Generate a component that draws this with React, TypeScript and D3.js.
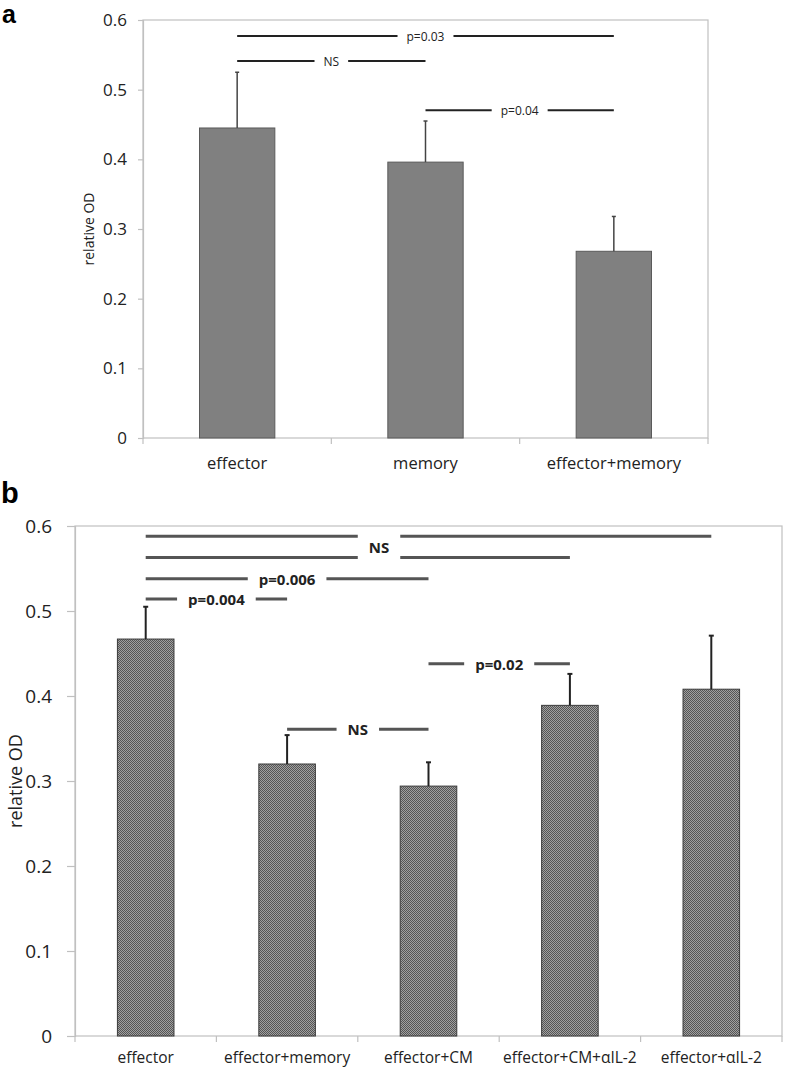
import React, { useEffect, useRef } from "react";
import * as d3 from "d3";

// ---------- Panel a data ----------
const catsA = ["effector", "memory", "effector+memory"];
const valsA = [0.445, 0.396, 0.268];
const errA = [0.525, 0.455, 0.318];
const sigA = [
  { from: 0, to: 2, y: 0.577, label: "p=0.03", gapAt: 1 },
  { from: 0, to: 1, y: 0.541, label: "NS", gapAt: 0.5 },
  { from: 1, to: 2, y: 0.4706, label: "p=0.04", gapAt: 1.5 },
];

// ---------- Panel b data ----------
const catsB = ["effector", "effector+memory", "effector+CM", "effector+CM+αIL-2", "effector+αIL-2"];
const valsB = [0.467, 0.32, 0.294, 0.389, 0.408];
const errB = [0.505, 0.354, 0.322, 0.426, 0.471];
const sigB = [
  { from: 0, to: 4, y: 0.588, label: "", gapAt: 1.65 },
  { from: 0, to: 3, y: 0.563, label: "", gapAt: 1.65 },
  { from: 0, to: 2, y: 0.538, label: "p=0.006", gapAt: 1 },
  { from: 0, to: 1, y: 0.514, label: "p=0.004", gapAt: 0.5 },
  { from: 2, to: 3, y: 0.438, label: "p=0.02", gapAt: 2.5 },
  { from: 1, to: 2, y: 0.361, label: "NS", gapAt: 1.5 },
];
const extraLabelsB = [{ at: 1.65, y: 0.5755, text: "NS" }];

const yTicks = [0, 0.1, 0.2, 0.3, 0.4, 0.5, 0.6];
const yTickLabels = ["0", "0.1", "0.2", "0.3", "0.4", "0.5", "0.6"];

const FONT = "'Open Sans', 'Noto Sans', sans-serif";

type Cfg = {
  cats: string[];
  vals: number[];
  errs: number[];
  sig: { from: number; to: number; y: number; label: string; gapAt: number }[];
  extra: { at: number; y: number; text: string }[];
  left: number; right: number; top: number; bottom: number;
  tickFont: number; tickSize: number; tickPad: number;
  catFont: number; catBaselineOffset: number;
  yLabelX: number; yLabelFont: number;
  sigFont: number; sigWeight: string; sigStroke: string; sigWidth: number; sigPad: number;
  barFill: string; barStroke: string;
  errStroke: string; errWidth: number; capW: number;
};

function drawPanel(svg: d3.Selection<SVGSVGElement, unknown, null, undefined>, c: Cfg) {
  const g = svg.append("g");
  const x = d3.scaleBand<number>()
    .domain(c.cats.map((_, i) => i))
    .range([c.left, c.right])
    .paddingInner(0.6)
    .paddingOuter(0.3);
  const step = x.step();
  const cx = (i: number) => c.left + step * (i + 0.5);
  const y = d3.scaleLinear().domain([0, 0.6]).range([c.bottom, c.top]);

  // plot box
  g.append("rect")
    .attr("x", c.left).attr("y", c.top)
    .attr("width", c.right - c.left).attr("height", c.bottom - c.top)
    .attr("fill", "none").attr("stroke", "#c0c0c0").attr("stroke-width", 1.2);

  // y axis
  const ax = d3.axisLeft(y)
    .tickValues(yTicks)
    .tickFormat((_d, i) => yTickLabels[i])
    .tickSize(c.tickSize)
    .tickPadding(c.tickPad);
  const ag = g.append("g").attr("transform", `translate(${c.left},0)`).call(ax);
  ag.select(".domain").attr("stroke", "#c0c0c0").attr("stroke-width", 1.2);
  ag.selectAll(".tick line").attr("stroke", "#c0c0c0").attr("stroke-width", 1.2);
  ag.selectAll(".tick text")
    .attr("font-family", FONT).attr("font-size", c.tickFont).attr("fill", "#222");

  // bottom category boundary ticks
  g.selectAll(null).data(d3.range(c.cats.length + 1)).enter().append("line")
    .attr("x1", (i) => c.left + i * step).attr("x2", (i) => c.left + i * step)
    .attr("y1", c.bottom).attr("y2", c.bottom + 6)
    .attr("stroke", "#c0c0c0").attr("stroke-width", 1.2);

  // category labels
  g.selectAll(null).data(c.cats).enter().append("text")
    .attr("x", (_d, i) => cx(i)).attr("y", c.bottom + c.catBaselineOffset)
    .attr("text-anchor", "middle")
    .attr("font-family", FONT).attr("font-size", c.catFont).attr("fill", "#222")
    .text((d) => d);

  // y label
  g.append("text")
    .attr("transform", `translate(${c.yLabelX},${(c.top + c.bottom) / 2}) rotate(-90)`)
    .attr("text-anchor", "middle").attr("dominant-baseline", "central")
    .attr("font-family", FONT).attr("font-size", c.yLabelFont).attr("fill", "#222")
    .text("relative OD");

  // bars
  g.selectAll(null).data(c.vals).enter().append("rect")
    .attr("x", (_d, i) => x(i)!).attr("width", x.bandwidth())
    .attr("y", (d) => y(d)).attr("height", (d) => y(0) - y(d))
    .attr("fill", c.barFill).attr("stroke", c.barStroke).attr("stroke-width", 1);

  // error bars
  c.errs.forEach((e, i) => {
    g.append("line")
      .attr("x1", cx(i)).attr("x2", cx(i)).attr("y1", y(c.vals[i])).attr("y2", y(e))
      .attr("stroke", c.errStroke).attr("stroke-width", c.errWidth);
    g.append("line")
      .attr("x1", cx(i) - c.capW / 2).attr("x2", cx(i) + c.capW / 2).attr("y1", y(e)).attr("y2", y(e))
      .attr("stroke", c.errStroke).attr("stroke-width", c.errWidth);
  });

  // significance lines
  const measure = (t: string) => {
    const tt = g.append("text").attr("font-family", FONT).attr("font-size", c.sigFont)
      .attr("font-weight", c.sigWeight).text(t);
    const w = (tt.node() as SVGTextElement).getComputedTextLength();
    tt.remove();
    return w;
  };
  const nsW = measure("NS");
  c.sig.forEach((s) => {
    const x1 = cx(s.from), x2 = cx(s.to);
    const gc = cx(s.gapAt);
    const tw = s.label ? measure(s.label) : nsW;
    const gl = gc - tw / 2 - c.sigPad, gr = gc + tw / 2 + c.sigPad;
    const yy = y(s.y);
    g.append("line").attr("x1", x1).attr("x2", gl).attr("y1", yy).attr("y2", yy)
      .attr("stroke", c.sigStroke).attr("stroke-width", c.sigWidth);
    g.append("line").attr("x1", gr).attr("x2", x2).attr("y1", yy).attr("y2", yy)
      .attr("stroke", c.sigStroke).attr("stroke-width", c.sigWidth);
    if (s.label) {
      g.append("text").attr("x", gc).attr("y", yy)
        .attr("text-anchor", "middle").attr("dominant-baseline", "central")
        .attr("font-family", FONT).attr("font-size", c.sigFont).attr("font-weight", c.sigWeight)
        .attr("fill", "#222").text(s.label);
    }
  });
  c.extra.forEach((l) => {
    g.append("text").attr("x", cx(l.at)).attr("y", y(l.y))
      .attr("text-anchor", "middle").attr("dominant-baseline", "central")
      .attr("font-family", FONT).attr("font-size", c.sigFont).attr("font-weight", c.sigWeight)
      .attr("fill", "#222").text(l.text);
  });
}

export default function App() {
  const ref = useRef<SVGSVGElement>(null);
  useEffect(() => {
    const svg = d3.select(ref.current!);
    svg.selectAll("*").remove();

    const defs = svg.append("defs");
    const pat = defs.append("pattern").attr("id", "dots")
      .attr("patternUnits", "userSpaceOnUse").attr("width", 2).attr("height", 2);
    pat.append("rect").attr("width", 2).attr("height", 2).attr("fill", "#a0a0a0");
    pat.append("rect").attr("x", 0).attr("y", 0).attr("width", 1).attr("height", 1).attr("fill", "#555");
    pat.append("rect").attr("x", 1).attr("y", 1).attr("width", 1).attr("height", 1).attr("fill", "#555");

    svg.append("text").attr("x", 2).attr("y", 23)
      .attr("font-family", "'Liberation Sans', Arial, sans-serif").attr("font-weight", "bold")
      .attr("font-size", 25).attr("fill", "#000").text("a");
    svg.append("text").attr("x", 1).attr("y", 503)
      .attr("font-family", "'Liberation Sans', Arial, sans-serif").attr("font-weight", "bold")
      .attr("font-size", 29).attr("fill", "#000").text("b");

    drawPanel(svg as any, {
      cats: catsA, vals: valsA, errs: errA, sig: sigA, extra: [],
      left: 143, right: 708, top: 20, bottom: 438,
      tickFont: 17, tickSize: 5, tickPad: 11,
      catFont: 16.5, catBaselineOffset: 31,
      yLabelX: 88, yLabelFont: 14,
      sigFont: 12, sigWeight: "normal", sigStroke: "#222", sigWidth: 2, sigPad: 9,
      barFill: "#808080", barStroke: "#5a5a5a",
      errStroke: "#444", errWidth: 1.5, capW: 4,
    });

    drawPanel(svg as any, {
      cats: catsB, vals: valsB, errs: errB, sig: sigB, extra: extraLabelsB,
      left: 75, right: 782, top: 526, bottom: 1036,
      tickFont: 19, tickSize: 8, tickPad: 15,
      catFont: 15.5, catBaselineOffset: 27,
      yLabelX: 15, yLabelFont: 18,
      sigFont: 15, sigWeight: "bold", sigStroke: "#555", sigWidth: 3, sigPad: 11,
      barFill: "url(#dots)", barStroke: "#3a3a3a",
      errStroke: "#222", errWidth: 2, capW: 5,
    });
  }, []);
  return (
    <div style={{ position: "absolute", left: 0, top: 0 }}>
      <svg ref={ref} width={787} height={1068} style={{ display: "block", background: "#fff" }} />
    </div>
  );
}
